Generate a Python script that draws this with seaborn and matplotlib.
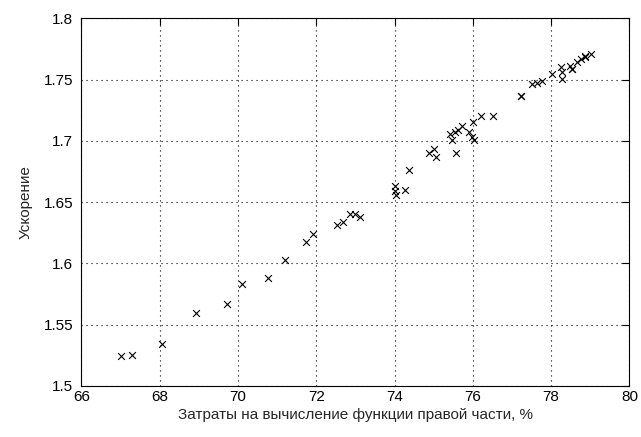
import matplotlib
matplotlib.use("Agg")
import matplotlib.pyplot as plt
import matplotlib.ticker as mticker
import pandas as pd
import seaborn as sns


# ==========================================
# DATA
# ==========================================

cost_percent = [
    67.00, 67.29, 68.07, 68.94, 69.72, 70.10, 70.76,
    71.20, 71.73, 71.92, 72.53, 72.67, 72.85, 73.00, 73.12,
    74.02, 74.00, 74.04, 74.27, 74.36,
    74.88, 75.01, 75.06, 75.56, 75.41, 75.47, 75.54, 75.63,
    75.73, 75.90, 75.97, 76.03, 76.00, 76.20, 76.51,
    77.23, 77.24, 77.50, 77.63, 77.76, 78.01, 78.25, 78.27,
    78.27, 78.48, 78.52, 78.53, 78.65, 78.77, 78.86, 78.87, 79.03,
]

speedup = [
    1.524, 1.525, 1.534, 1.5595, 1.567, 1.583, 1.588,
    1.6025, 1.6176, 1.6236, 1.6315, 1.6336, 1.6405, 1.6405, 1.638,
    1.663, 1.659, 1.656, 1.660, 1.676,
    1.690, 1.693, 1.687, 1.690, 1.7055, 1.701, 1.707, 1.709,
    1.7124, 1.707, 1.7035, 1.7007, 1.715, 1.7205, 1.7205,
    1.7365, 1.7368, 1.7463, 1.7472, 1.7488, 1.7545, 1.760, 1.756,
    1.7504, 1.7613, 1.7586, 1.7590, 1.764, 1.7668, 1.7686, 1.7690, 1.771,
]

x_ticks = [66, 68, 70, 72, 74, 76, 78, 80]
y_ticks = [1.5, 1.55, 1.6, 1.65, 1.7, 1.75, 1.8]

x_label = "Затраты на вычисление функции правой части, %"
y_label = "Ускорение"


# ==========================================
# FIGURE
# ==========================================

sns.set_style("white")

plt.rcParams["font.family"] = [
    "Liberation Sans Narrow",
    "Liberation Sans",
    "DejaVu Sans",
]

df = pd.DataFrame(
    {
        "cost": cost_percent,
        "speedup": speedup,
    }
)

fig = plt.figure(
    figsize=(6.41, 4.37),
    dpi=100
)

ax = fig.add_axes([0.127, 0.117, 0.855, 0.841])

sns.scatterplot(
    data=df,
    x="cost",
    y="speedup",
    marker="x",
    color="black",
    s=24,
    linewidth=0.8,
    ax=ax
)

ax.set_xlim(66, 80)
ax.set_ylim(1.5, 1.8)

ax.set_xticks(x_ticks)
ax.set_yticks(y_ticks)

ax.yaxis.set_major_formatter(
    mticker.FormatStrFormatter("%g")
)

ax.grid(
    True,
    color="black",
    linestyle=(0, (1, 3.5)),
    linewidth=0.8
)

for spine in ax.spines.values():
    spine.set_color("black")
    spine.set_linewidth(0.8)

ax.tick_params(
    direction="in",
    top=True,
    right=True,
    length=5,
    width=0.8,
    labelsize=11,
    colors="black"
)

ax.tick_params(axis="y", pad=6)
ax.tick_params(axis="x", pad=3)

ax.set_xlabel(
    x_label,
    fontsize=11,
    labelpad=3
)

ax.set_ylabel(
    y_label,
    fontsize=11,
    labelpad=8
)

fig.savefig("out.png", dpi=100)
plt.close(fig)
